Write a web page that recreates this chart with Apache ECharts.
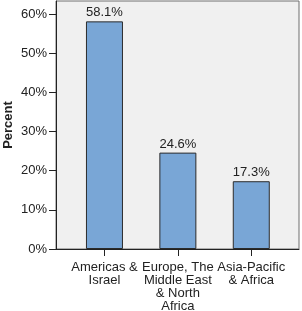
<!DOCTYPE html>
<html><head><meta charset="utf-8">
<script src="https://cdn.jsdelivr.net/npm/echarts@6/dist/echarts.min.js"></script>
<style>html,body{margin:0;padding:0;background:#fff}#c{width:302px;height:311px}</style>
</head><body><div id="c"></div>
<script>
const categories = ["Americas &\nIsrael", "Europe, The\nMiddle East\n& North\nAfrica", "Asia-Pacific\n& Africa"];
const percentValues = [58.1, 24.6, 17.3];
const yTicks = [0, 10, 20, 30, 40, 50, 60];
const FONT = "Liberation Sans";
const chart = echarts.init(document.getElementById('c'), null, {renderer: 'canvas'});
chart.setOption({
  animation: false,
  backgroundColor: '#ffffff',
  grid: {left: 56, right: 3, top: 1, bottom: 62, show: true, backgroundColor: '#f0f0f0', borderColor: '#6e6e6e', borderWidth: 1,
    containLabel: false, outerBoundsMode: 'none'},
  xAxis: {
    type: 'value', min: -0.66, max: 2.65,
    axisLine: {show: true, onZero: false, lineStyle: {color: '#222', width: 1}},
    axisTick: {show: true, length: 7, lineStyle: {color: '#222'}, customValues: [0, 1, 2]},
    axisLabel: {customValues: [0, 1, 2], margin: 12, color: '#222', fontFamily: FONT, fontSize: 13, lineHeight: 13,
      formatter: v => categories[Math.round(v)] || ''},
    splitLine: {show: false}
  },
  yAxis: {
    type: 'value', min: 0, max: 63.3,
    name: 'Percent', nameLocation: 'middle', nameGap: 41, nameMoveOverlap: false,
    nameTextStyle: {fontFamily: FONT, fontSize: 13, fontWeight: 'bold', color: '#222'},
    axisLine: {show: true, onZero: false, lineStyle: {color: '#222', width: 1}},
    axisTick: {show: true, length: 7, lineStyle: {color: '#222'}, customValues: yTicks},
    axisLabel: {customValues: yTicks, margin: 9, color: '#222', fontFamily: FONT, fontSize: 13, formatter: '{value}%'},
    splitLine: {show: false}
  },
  series: [{
    type: 'bar',
    data: percentValues.map((v, i) => [i, v]),
    barWidth: 37,
    itemStyle: {color: '#79a6d6', borderColor: '#2b2b2b', borderWidth: 1},
    label: {show: true, position: 'top', distance: 2, color: '#222', fontFamily: FONT, fontSize: 13,
      formatter: p => p.value[1].toFixed(1) + '%'}
  }]
});
</script></body></html>
